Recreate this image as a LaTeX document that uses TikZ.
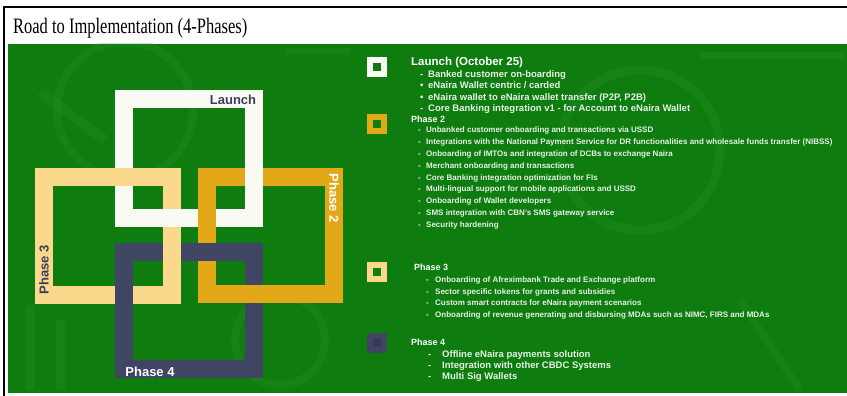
\documentclass[tikz,border=0pt]{standalone}
\usepackage{fontspec}
\setmainfont{Liberation Serif}
\setsansfont{Liberation Sans}
\usetikzlibrary{positioning}
\definecolor{bggreen}{HTML}{0E7C0E}
\definecolor{decogreen}{HTML}{2C962C}
\definecolor{ringwhite}{HTML}{FAFAF5}
\definecolor{ringcream}{HTML}{FAD98C}
\definecolor{ringgold}{HTML}{E2A818}
\definecolor{ringslate}{HTML}{3F4563}
\definecolor{inkdark}{HTML}{3A3E58}

\begin{document}
\begin{tikzpicture}[
  x=1pt,y=-1pt,
  ring/.style={draw=#1,line width=18pt,inner sep=0pt,outer sep=0pt},
  ringtag/.style={font=\sffamily\bfseries\fontsize{13}{13}\selectfont,inner sep=0pt},
  icon/.style={draw=#1,line width=6pt,minimum size=14pt,inner sep=0pt},
  head/.style={font=\sffamily\bfseries\fontsize{9}{9}\selectfont,text=white,
    anchor=base west,inner sep=0pt},
  list/.style={font=\sffamily\bfseries\fontsize{8}{11.4}\selectfont,text=white!90!bggreen,
    align=left,anchor=north west,inner sep=0pt},
  biglist/.style={list,font=\sffamily\bfseries\fontsize{9.5}{11.4}\selectfont},
  deco/.style={draw=decogreen,line width=#1,opacity=.25}
]
\useasboundingbox (0,0) rectangle (847,396);
\fill[white] (0,0) rectangle (847,396);
\draw[line width=1.5pt] (3,7) -- (847,7);
\draw[line width=1.5pt] (4,7) -- (4,396);
\node[anchor=base west,inner sep=0pt,xscale=.75,font=\fontsize{22}{22}\selectfont]
  (title) at (13,34) {Road to Implementation (4-Phases)};
\fill[bggreen] (8,44) rectangle (847,393);

% faint background marks
\begin{scope}
\clip (8,44) rectangle (847,393);
\draw[deco=8pt] (125,110) circle (68);
\draw[deco=10pt] (40,92) -- (105,140);
\draw[deco=9pt] (640,150) circle (80);
\draw[deco=7pt] (285,52) -- (350,52);
\draw[deco=7pt] (700,56) -- (845,56);
\draw[deco=9pt] (30,305) -- (30,390);
\draw[deco=9pt] (60,320) -- (60,390);
\draw[deco=8pt] (280,340) circle (45);
\draw[deco=7pt] (740,300) -- (800,390);
\end{scope}

% interlocked squares
\node[ring=ringwhite,minimum width=130pt,minimum height=119pt] (sqLaunch) at (189,158.5) {};
\node[ring=ringcream,minimum width=128pt,minimum height=118pt] (sqThree) at (107.5,236) {};
\node[ring=ringgold,minimum width=127pt,minimum height=117pt] (sqTwo) at (270.5,235) {};
\node[ring=ringslate,minimum width=130pt,minimum height=117pt] (sqFour) at (189,310) {};
\begin{scope}
\clip (158,205) rectangle (184,231);
\draw[ring=ringwhite] (sqLaunch.north west) rectangle (sqLaunch.south east);
\end{scope}
\begin{scope}
\clip (241,164) rectangle (267,189);
\draw[ring=ringwhite] (sqLaunch.north west) rectangle (sqLaunch.south east);
\end{scope}
\begin{scope}
\clip (158,239) rectangle (184,264);
\draw[ring=ringcream] (sqThree.north west) rectangle (sqThree.south east);
\end{scope}
\begin{scope}
\clip (241,283) rectangle (267,306);
\draw[ring=ringgold] (sqTwo.north west) rectangle (sqTwo.south east);
\end{scope}

\node[ringtag,text=inkdark] (tagLaunch) at (233,100) {Launch};
\node[ringtag,text=white,rotate=-90] (tagTwo) at (334,198) {Phase 2};
\node[ringtag,text=inkdark,rotate=90] (tagThree) at (44,270) {Phase 3};
\node[ringtag,text=white] (tagFour) at (150,372) {Phase 4};

% legend
\node[icon=ringwhite,fill=bggreen] (iconLaunch) at (377,67) {};
\node[icon=ringgold,fill=bggreen] (iconTwo) at (377,124) {};
\node[icon=ringcream,fill=bggreen] (iconThree) at (377,272) {};
\node[icon=ringslate,fill=ringslate!85!black] (iconFour) at (377,343) {};

\node[head,font=\sffamily\bfseries\fontsize{11.5}{11.5}\selectfont] (headLaunch) at (411,66)
  {Launch (October 25)};
\node[biglist] (listLaunch) at (420,70.5) {%
  \makebox[8pt][l]{-}Banked customer on-boarding\\
  \makebox[8pt][l]{\textbullet}eNaira Wallet centric / carded\\
  \makebox[8pt][l]{\textbullet}eNaira wallet to eNaira wallet transfer (P2P, P2B)\\
  \makebox[8pt][l]{-}Core Banking integration v1 - for Account to eNaira Wallet};
\node[head] (headTwo) at (411,122) {Phase 2};
\node[list,font=\sffamily\bfseries\fontsize{8}{11.8}\selectfont] (listTwo) at (418,127) {%
  \makebox[8pt][l]{-}Unbanked customer onboarding and transactions via USSD\\
  \makebox[8pt][l]{-}Integrations with the National Payment Service for DR functionalities and wholesale funds transfer (NIBSS)\\
  \makebox[8pt][l]{-}Onboarding of IMTOs and integration of DCBs to exchange Naira\\
  \makebox[8pt][l]{-}Merchant onboarding and transactions\\
  \makebox[8pt][l]{-}Core Banking integration optimization for FIs\\
  \makebox[8pt][l]{-}Multi-lingual support for mobile applications and USSD\\
  \makebox[8pt][l]{-}Onboarding of Wallet developers\\
  \makebox[8pt][l]{-}SMS integration with CBN's SMS gateway service\\
  \makebox[8pt][l]{-}Security hardening};
\node[head] (headThree) at (414,270) {Phase 3};
\node[list] (listThree) at (426,277) {%
  \makebox[9pt][l]{-}Onboarding of Afreximbank Trade and Exchange platform\\
  \makebox[9pt][l]{-}Sector specific tokens for grants and subsidies\\
  \makebox[9pt][l]{-}Custom smart contracts for eNaira payment scenarios\\
  \makebox[9pt][l]{-}Onboarding of revenue generating and disbursing MDAs such as NIMC, FIRS and MDAs};
\node[head] (headFour) at (411,345) {Phase 4};
\node[biglist] (listFour) at (428,350) {%
  \makebox[14pt][l]{-}Offline eNaira payments solution\\
  \makebox[14pt][l]{-}Integration with other CBDC Systems\\
  \makebox[14pt][l]{-}Multi Sig Wallets};
\end{tikzpicture}
\end{document}
